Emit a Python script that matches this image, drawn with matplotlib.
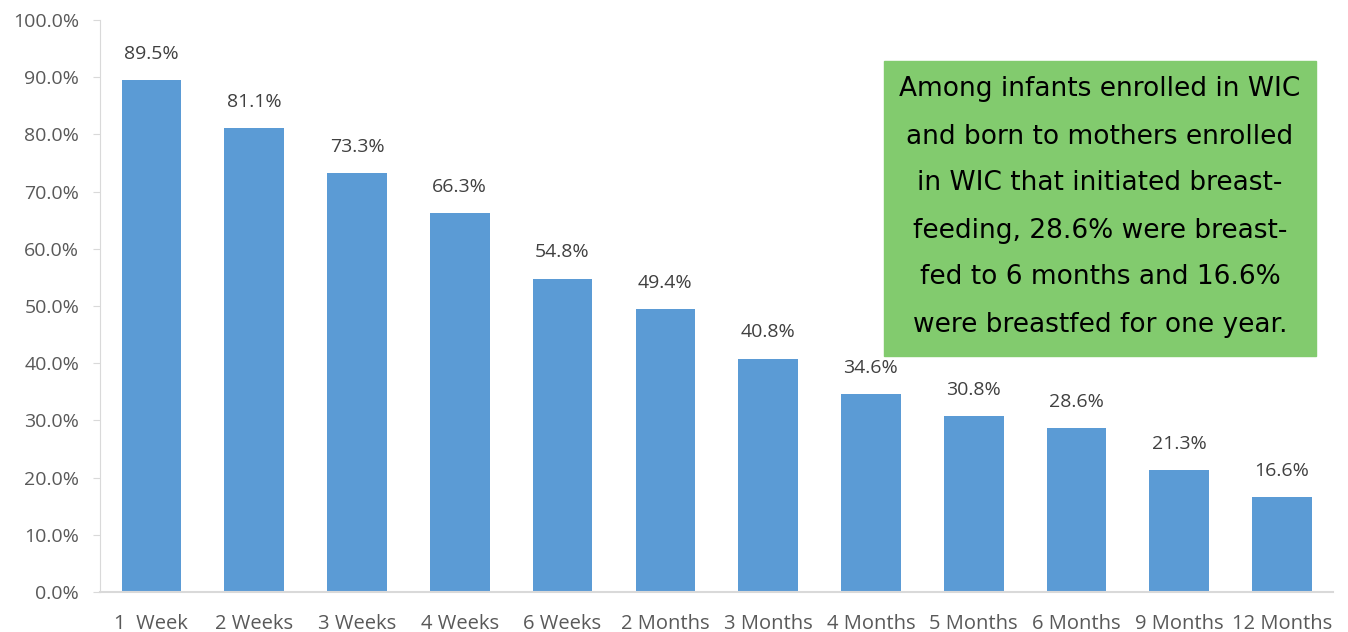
import matplotlib.pyplot as plt

categories = ['1  Week', '2 Weeks', '3 Weeks', '4 Weeks', '6 Weeks', '2 Months',
              '3 Months', '4 Months', '5 Months', '6 Months', '9 Months', '12 Months']
values = [89.5, 81.1, 73.3, 66.3, 54.8, 49.4, 40.8, 34.6, 30.8, 28.6, 21.3, 16.6]
yticks = [0, 10, 20, 30, 40, 50, 60, 70, 80, 90, 100]

note = ("Among infants enrolled in WIC\n"
        "and born to mothers enrolled\n"
        "in WIC that initiated breast-\n"
        "feeding, 28.6% were breast-\n"
        "fed to 6 months and 16.6%\n"
        "were breastfed for one year.")

plt.rcParams['font.family'] = ['Open Sans', 'DejaVu Sans']

fig = plt.figure(figsize=(13.48, 6.32), dpi=100)
ax = fig.add_axes([0.0742, 0.0633, 0.915, 0.905])

x = list(range(len(categories)))
bars = ax.bar(x, values, width=0.58, color='#5b9bd5')
for xi, v in zip(x, values):
    ax.text(xi, v + 3.0, f'{v:.1f}%', ha='center', va='bottom', fontsize=14, color='#404040')

ax.set_xlim(-0.5, len(categories) - 0.5)
ax.set_ylim(0, 100)
ax.set_yticks(yticks)
ax.set_yticklabels([f'{t:.1f}%' for t in yticks], fontsize=14, color='#595959')
ax.set_xticks(x)
ax.set_xticklabels(categories, fontsize=14.5, color='#595959')
ax.tick_params(axis='x', length=0, pad=16)
ax.tick_params(axis='y', length=5, color='#d9d9d9', pad=10)

for s in ['top', 'right']:
    ax.spines[s].set_visible(False)
ax.spines['left'].set_color('#d9d9d9')
ax.spines['bottom'].set_color('#d9d9d9')
ax.spines['bottom'].set_linewidth(1.5)

fig.patches.append(plt.Rectangle((884 / 1348, 1 - 356 / 632), 432 / 1348, 295 / 632,
                                 transform=fig.transFigure, color='#82cb6e', zorder=3))
fig.text(1100 / 1348, 1 - 207 / 632, note, ha='center', va='center', fontsize=19,
         fontfamily=['DejaVu Sans'], linespacing=2.05, color='black', zorder=4)

fig.savefig('out.png', dpi=100)
